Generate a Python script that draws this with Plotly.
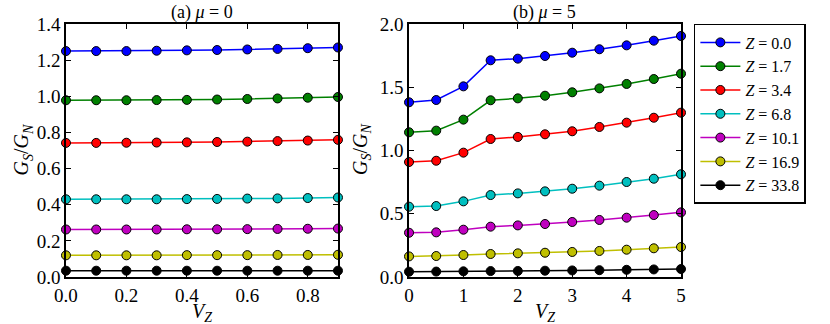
import plotly.graph_objects as go

# panel (a): mu = 0
vz_a = [0.0, 0.1, 0.2, 0.3, 0.4, 0.5, 0.6, 0.7, 0.8, 0.9]
gs_a = {
    "0.0": [1.250, 1.250, 1.250, 1.252, 1.254, 1.256, 1.259, 1.262, 1.266, 1.270],
    "1.7": [0.978, 0.978, 0.978, 0.979, 0.980, 0.982, 0.985, 0.988, 0.992, 0.996],
    "3.4": [0.742, 0.742, 0.743, 0.744, 0.745, 0.747, 0.749, 0.752, 0.755, 0.759],
    "6.8": [0.430, 0.430, 0.430, 0.430, 0.431, 0.432, 0.434, 0.435, 0.437, 0.440],
    "10.1": [0.263, 0.263, 0.263, 0.263, 0.264, 0.264, 0.265, 0.266, 0.267, 0.268],
    "16.9": [0.120, 0.120, 0.120, 0.120, 0.121, 0.121, 0.121, 0.122, 0.122, 0.123],
    "33.8": [0.035, 0.035, 0.035, 0.035, 0.035, 0.035, 0.035, 0.035, 0.035, 0.035],
}

# panel (b): mu = 5
vz_b = [0.0, 0.5, 1.0, 1.5, 2.0, 2.5, 3.0, 3.5, 4.0, 4.5, 5.0]
gs_b = {
    "0.0": [1.381, 1.399, 1.507, 1.713, 1.726, 1.747, 1.773, 1.800, 1.831, 1.868, 1.905],
    "1.7": [1.144, 1.157, 1.244, 1.397, 1.412, 1.433, 1.460, 1.491, 1.526, 1.565, 1.607],
    "3.4": [0.909, 0.919, 0.983, 1.091, 1.107, 1.128, 1.152, 1.186, 1.220, 1.259, 1.299],
    "6.8": [0.556, 0.561, 0.598, 0.648, 0.661, 0.677, 0.698, 0.722, 0.751, 0.777, 0.812],
    "10.1": [0.350, 0.353, 0.374, 0.398, 0.408, 0.419, 0.435, 0.451, 0.469, 0.490, 0.511],
    "16.9": [0.163, 0.166, 0.174, 0.182, 0.187, 0.192, 0.198, 0.206, 0.216, 0.227, 0.237],
    "33.8": [0.042, 0.043, 0.045, 0.047, 0.048, 0.050, 0.052, 0.054, 0.057, 0.060, 0.063],
}

colors = ["#0000ff", "#008000", "#ff0000", "#00bfbf", "#bf00bf", "#bfbf00", "#000000"]

FONT = "Liberation Serif, DejaVu Serif, serif"

fig = go.Figure()

for (z, col) in zip(gs_a.keys(), colors):
    fig.add_trace(go.Scatter(
        x=vz_a, y=gs_a[z], mode="lines+markers", xaxis="x", yaxis="y",
        line=dict(color=col, width=1.5),
        marker=dict(color=col, size=9, line=dict(color="black", width=1)),
        showlegend=False, cliponaxis=False,
    ))
    fig.add_trace(go.Scatter(
        x=vz_b, y=gs_b[z], mode="lines+markers", xaxis="x2", yaxis="y2",
        line=dict(color=col, width=1.5),
        marker=dict(color=col, size=9, line=dict(color="black", width=1)),
        name="<i>Z</i> = " + z, cliponaxis=False,
    ))

axis_common = dict(
    showgrid=False, zeroline=False, showline=True, linecolor="black", linewidth=1.5,
    mirror="ticks", ticks="inside", ticklen=5, tickcolor="black",
    tickfont=dict(family=FONT, size=19, color="black"),
)

def label(text, x, y, size=20, angle=0):
    return dict(text=text, x=x, y=y, xref="paper", yref="paper",
                xanchor="center", yanchor="middle", showarrow=False, textangle=angle,
                font=dict(family=FONT, size=size, color="black"))

fig.update_layout(
    width=830, height=324,
    margin=dict(l=0, r=0, t=0, b=0, autoexpand=False),
    paper_bgcolor="white", plot_bgcolor="white",
    font=dict(family=FONT, color="black"),
    xaxis=dict(domain=[0.0795, 0.4072], range=[0, 0.9], dtick=0.2, tickformat=".1f",
               anchor="y", **axis_common),
    yaxis=dict(domain=[0.145, 0.926], range=[0, 1.4], dtick=0.2, tickformat=".1f",
               anchor="x", **axis_common),
    xaxis2=dict(domain=[0.4928, 0.8205], range=[0, 5], dtick=1,
                anchor="y2", **axis_common),
    yaxis2=dict(domain=[0.145, 0.926], range=[0, 2.0], dtick=0.5, tickformat=".1f",
                anchor="x2", **axis_common),
    legend=dict(x=0.836, y=0.926, xanchor="left", yanchor="top",
                bordercolor="black", borderwidth=1.5, bgcolor="white",
                font=dict(family=FONT, size=16, color="black"),
                tracegroupgap=0, itemwidth=40),
    annotations=[
        label("(a) <i>μ</i> = 0", 0.2434, 0.962, 18),
        label("(b) <i>μ</i> = 5", 0.6566, 0.962, 18),
        label("<i>V<sub>Z</sub></i>", 0.2434, 0.035),
        label("<i>V<sub>Z</sub></i>", 0.6566, 0.035),
        label("<i>G<sub>S</sub></i>/<i>G<sub>N</sub></i>", 0.027, 0.537, 20, -90),
        label("<i>G<sub>S</sub></i>/<i>G<sub>N</sub></i>", 0.435, 0.537, 20, -90),
    ],
)

# drop the browser's default 8px body margin so the figure sits at the window origin
fig.write_html("out.html", post_script="document.body.style.margin='0';",
               config={"displayModeBar": False})
